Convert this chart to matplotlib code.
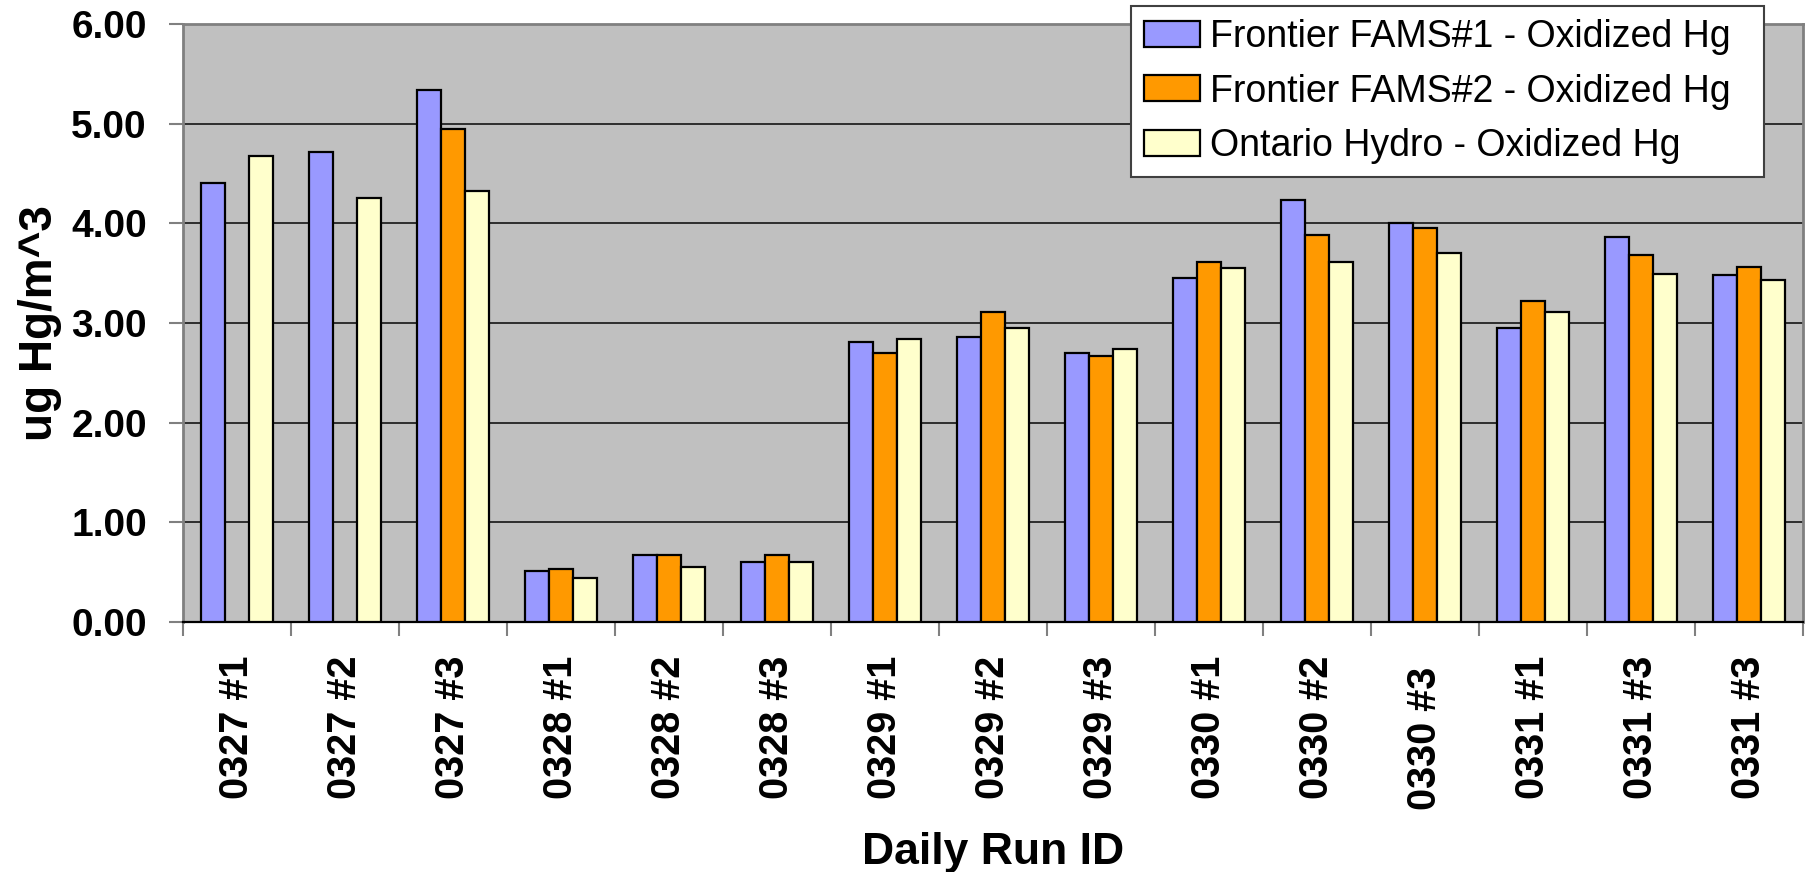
import numpy as np
import matplotlib
matplotlib.use("Agg")
import matplotlib.pyplot as plt
from matplotlib.patches import Rectangle
from matplotlib.legend_handler import HandlerPatch

plt.rcParams['font.family'] = ['Liberation Sans', 'DejaVu Sans']

# Daily run identifiers and oxidized mercury results (ug Hg/m^3)
run_ids = ["0327 #1", "0327 #2", "0327 #3", "0328 #1", "0328 #2", "0328 #3",
           "0329 #1", "0329 #2", "0329 #3", "0330 #1", "0330 #2", "0330 #3 ",
           "0331 #1", "0331 #3", "0331 #3"]
fams1 = [4.40, 4.72, 5.34, 0.51, 0.67, 0.60, 2.81, 2.86, 2.70, 3.45, 4.23, 4.00, 2.95, 3.86, 3.48]
fams2 = [np.nan, np.nan, 4.95, 0.53, 0.67, 0.67, 2.70, 3.11, 2.67, 3.61, 3.88, 3.95, 3.22, 3.68, 3.56]
ontario = [4.68, 4.25, 4.32, 0.44, 0.555, 0.60, 2.84, 2.95, 2.74, 3.55, 3.61, 3.70, 3.11, 3.49, 3.43]

series_names = ["Frontier FAMS#1 - Oxidized Hg",
                "Frontier FAMS#2 - Oxidized Hg",
                "Ontario Hydro - Oxidized Hg"]
series_colors = ["#9999FF", "#FF9900", "#FFFFCC"]
y_ticks = [0, 1, 2, 3, 4, 5, 6]

fig = plt.figure(figsize=(18.14, 8.72), dpi=100)
ax = fig.add_axes([0.1009, 0.2867, 0.893, 0.6858])
ax.set_facecolor("#C0C0C0")

x = np.arange(len(run_ids))
bw = 1 / 4.5
handles = []
for k, (vals, name, col) in enumerate(zip([fams1, fams2, ontario], series_names, series_colors)):
    vals = np.asarray(vals, dtype=float)
    ok = ~np.isnan(vals)
    b = ax.bar(x[ok] + (k - 1) * bw, vals[ok], width=bw, color=col,
               edgecolor="black", linewidth=1.6, label=name, zorder=3)
    handles.append(b)

ax.set_xlim(-0.5, len(run_ids) - 0.5)
ax.set_ylim(0, 6)
ax.set_yticks(y_ticks)
ax.set_yticklabels([f"{v:.2f}" for v in y_ticks], fontsize=28, fontweight="bold")
ax.yaxis.grid(True, color="#222222", linewidth=1.3, zorder=1)
ax.set_axisbelow(True)

ax.set_xticks(x)
ax.set_xticklabels(run_ids, rotation=90, fontsize=28.5, fontweight="bold",
                   va="top", ha="center")
ax.tick_params(axis="x", which="major", length=0, pad=24)
ax.set_xticks(np.arange(len(run_ids) + 1) - 0.5, minor=True)
ax.tick_params(axis="x", which="minor", length=10, width=1.5, color="#808080", direction="out")
ax.tick_params(axis="y", length=10, width=1.5, color="#808080", direction="out", pad=16)

for side in ("left", "top", "right"):
    ax.spines[side].set_color("#808080")
    ax.spines[side].set_linewidth(2)
ax.spines["bottom"].set_color("black")
ax.spines["bottom"].set_linewidth(1.6)

fig.text(40 / 1814, 1 - 323 / 872, "ug Hg/m^3", rotation=90, fontsize=33,
         fontweight="bold", ha="center", va="center")
fig.text(993 / 1814, 1 - 852 / 872, "Daily Run ID", fontsize=32,
         fontweight="bold", ha="center", va="center")


def square_patch(legend, orig_handle, xdescent, ydescent, width, height, fontsize):
    s = 18.5
    return Rectangle((width - s - xdescent, (height - s) / 2 - ydescent), s, s)


leg = fig.legend(handles=handles, labels=[n + "  " for n in series_names],
                 loc="upper left",
                 bbox_to_anchor=(1131 / 1814, 1 - 6 / 872),
                 fontsize=27, frameon=True, fancybox=False, framealpha=1,
                 borderpad=0.35, labelspacing=0.49, handlelength=1.5,
                 handletextpad=0.25, borderaxespad=0,
                 handler_map={type(handles[0].patches[0]): HandlerPatch(patch_func=square_patch)})
frame = leg.get_frame()
frame.set_edgecolor("#404040")
frame.set_linewidth(1.5)
frame.set_facecolor("white")
for h in leg.legend_handles:
    h.set_linewidth(1.6)
    h.set_edgecolor("black")

fig.savefig("out.png", dpi=100, facecolor="white")
